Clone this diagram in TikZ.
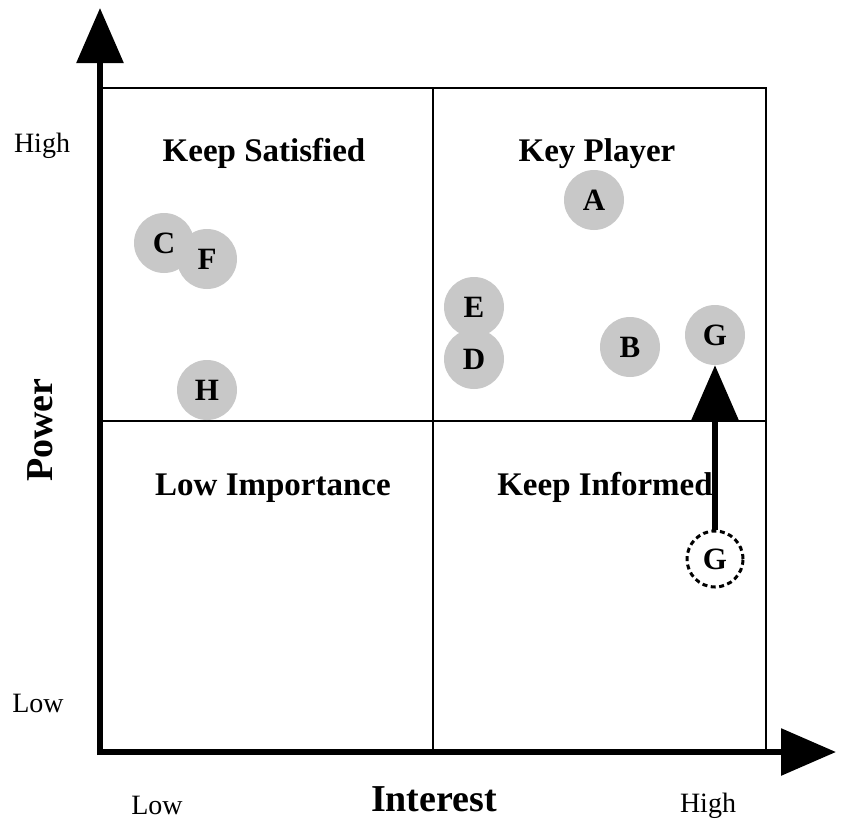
\documentclass[tikz,border=0pt]{standalone}
\usepackage{fontspec}
\setmainfont{Liberation Serif}
\usetikzlibrary{arrows.meta}
\definecolor{stakegray}{RGB}{200,200,200}
\begin{document}
\begin{tikzpicture}[x=1pt,y=-1pt,
  gridline/.style={line width=1.6pt},
  bigarrow/.style={line width=6pt,-{Triangle[length=55pt,width=46pt]}},
  stake/.style={circle,fill=stakegray,minimum size=60pt,inner sep=0pt,font=\fontsize{31}{31}\selectfont\bfseries},
  oldstake/.style={circle,draw,fill=white,dash pattern=on 5pt off 3.5pt,line width=3pt,minimum size=56pt,inner sep=0pt,font=\fontsize{31}{31}\selectfont\bfseries},
  quad/.style={font=\fontsize{33}{33}\selectfont\bfseries,anchor=base},
  ticklab/.style={font=\fontsize{28}{28}\selectfont,anchor=base},
  axlab/.style={font=\fontsize{38}{38}\selectfont\bfseries,anchor=base}]
\useasboundingbox (0,0) rectangle (841,820);
% grid
\draw[gridline] (100,88) rectangle (766,752);
\draw[gridline] (433,88) -- (433,752);
\draw[gridline] (100,421) -- (766,421);
% quadrant labels
\node[quad] (ks) at (264,161) {Keep Satisfied};
\node[quad] (kp) at (597,161) {Key Player};
\node[quad] (li) at (273,495) {Low Importance};
\node[quad] (ki) at (605,495) {Keep Informed};
% stakeholders
\node[stake] (C) at (164,243) {C};
\node[stake] (F) at (207,259) {F};
\node[stake] (H) at (207,390) {H};
\node[stake] (A) at (594,200) {A};
\node[stake] (E) at (474,307) {E};
\node[stake] (D) at (474,359) {D};
\node[stake] (B) at (630,347) {B};
\node[stake] (G) at (715,335) {G};
\node[oldstake] (G0) at (715,559) {G};
\draw[bigarrow] (G0) -- (G);
% axes
\coordinate (o) at (100,752);
\coordinate (ytip) at (100,8);
\coordinate (xtip) at (836,752);
\draw[bigarrow] (100,755) -- (ytip);
\draw[bigarrow] (97,752) -- (xtip);
% axis labels
\node[ticklab] (yhigh) at (42,152) {High};
\node[ticklab] (ylow) at (38,712) {Low};
\node[ticklab] (xlow) at (157,814) {Low};
\node[ticklab] (xhigh) at (708,812) {High};
\node[axlab] (xlab) at (434,811) {Interest};
\node[axlab,rotate=90] (ylab) at (52,430) {Power};
\end{tikzpicture}
\end{document}
